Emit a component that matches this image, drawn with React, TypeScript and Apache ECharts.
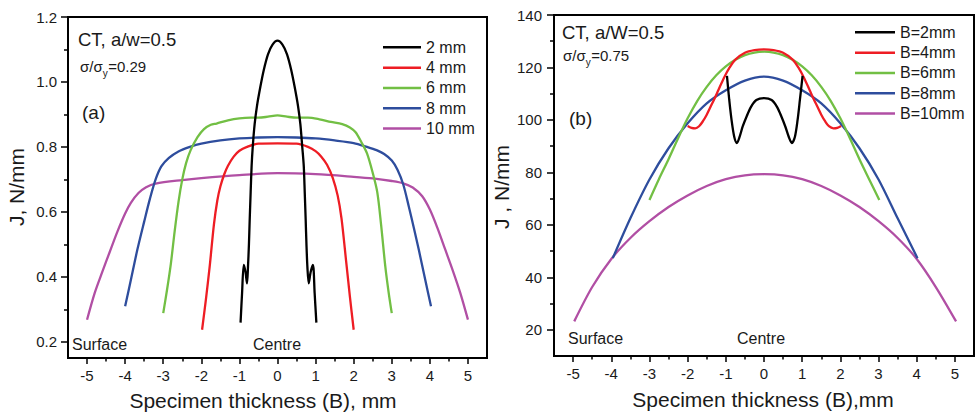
import React, { useEffect, useRef } from "react";
import * as echarts from "echarts";

// ---------- axis ticks ----------
const xTickValues = [-5, -4, -3, -2, -1, 0, 1, 2, 3, 4, 5];
const xMinorValues = [-4.5, -3.5, -2.5, -1.5, -0.5, 0.5, 1.5, 2.5, 3.5, 4.5];
const yTicksA = [0.2, 0.4, 0.6, 0.8, 1.0, 1.2];
const yMinorA = [0.3, 0.5, 0.7, 0.9, 1.1];
const yTicksB = [20, 40, 60, 80, 100, 120, 140];
const yMinorB = [30, 50, 70, 90, 110, 130];

// ---------- legends ----------
const namesA = ["2 mm", "4 mm", "6 mm", "8 mm", "10 mm"];
const namesB = ["B=2mm", "B=4mm", "B=6mm", "B=8mm", "B=10mm"];
const colors = ["#000000", "#ee1d24", "#72bf44", "#2e4d9d", "#b14fa4"];

// ---------- panel (a): J, N/mm vs specimen thickness ----------
const a2mm = [
  [-0.97, 0.259], [-0.93, 0.35], [-0.885, 0.437], [-0.84, 0.415], [-0.8, 0.38], [-0.775, 0.43],
  [-0.75, 0.5], [-0.73, 0.575], [-0.705, 0.66], [-0.68, 0.74], [-0.65, 0.8], [-0.6, 0.87],
  [-0.54, 0.925], [-0.45, 0.985], [-0.36, 1.037], [-0.25, 1.085], [-0.13, 1.115], [0, 1.127],
  [0.13, 1.115], [0.25, 1.085], [0.36, 1.037], [0.45, 0.985], [0.54, 0.925], [0.6, 0.87],
  [0.65, 0.8], [0.69, 0.74], [0.715, 0.66], [0.74, 0.575], [0.76, 0.5], [0.785, 0.43],
  [0.82, 0.38], [0.87, 0.415], [0.93, 0.437], [0.975, 0.35], [1.02, 0.259],
];
const a4mm = [
  [-1.98, 0.237], [-1.88, 0.33], [-1.78, 0.432], [-1.67, 0.56], [-1.58, 0.635], [-1.5, 0.678],
  [-1.4, 0.715], [-1.3, 0.742], [-1.15, 0.77], [-1.0, 0.788], [-0.8, 0.8], [-0.5, 0.81], [0, 0.811],
  [0.5, 0.81], [0.8, 0.8], [1.0, 0.787], [1.15, 0.77], [1.3, 0.745], [1.45, 0.705], [1.58, 0.65],
  [1.68, 0.58], [1.8, 0.45], [1.9, 0.34], [2.0, 0.237],
];
const a6mm = [
  [-3.0, 0.288], [-2.9, 0.36], [-2.8, 0.44], [-2.7, 0.54], [-2.6, 0.63], [-2.5, 0.7], [-2.4, 0.75],
  [-2.28, 0.79], [-2.1, 0.83], [-1.93, 0.855], [-1.75, 0.868], [-1.6, 0.872], [-1.3, 0.882],
  [-1.0, 0.888], [-0.7, 0.89], [-0.5, 0.89], [-0.25, 0.893], [0, 0.897], [0.25, 0.893], [0.5, 0.89],
  [0.8, 0.89], [1.1, 0.885], [1.4, 0.877], [1.7, 0.87], [1.9, 0.86], [2.05, 0.845], [2.2, 0.815],
  [2.35, 0.78], [2.5, 0.72], [2.62, 0.66], [2.72, 0.56], [2.83, 0.432], [2.92, 0.35], [3.0, 0.288],
];
const a8mm = [
  [-4.0, 0.309], [-3.85, 0.39], [-3.68, 0.483], [-3.5, 0.57], [-3.35, 0.64], [-3.2, 0.7],
  [-3.05, 0.74], [-2.85, 0.766], [-2.6, 0.786], [-2.3, 0.8], [-2.0, 0.81], [-1.5, 0.82],
  [-1.0, 0.826], [-0.5, 0.829], [0, 0.83], [0.5, 0.829], [1.0, 0.826], [1.5, 0.82], [2.0, 0.812],
  [2.35, 0.8], [2.6, 0.79], [2.8, 0.778], [3.0, 0.758], [3.15, 0.73], [3.3, 0.685], [3.45, 0.615],
  [3.58, 0.55], [3.71, 0.483], [3.88, 0.39], [4.03, 0.309],
];
const a10mm = [
  [-5.0, 0.268], [-4.8, 0.35], [-4.6, 0.415], [-4.4, 0.478], [-4.2, 0.54], [-4.0, 0.595],
  [-3.85, 0.628], [-3.65, 0.658], [-3.45, 0.676], [-3.2, 0.687], [-2.5, 0.698], [-2.0, 0.704],
  [-1.0, 0.713], [0, 0.719], [1.0, 0.716], [2.0, 0.708], [2.5, 0.703], [3.0, 0.695], [3.3, 0.688],
  [3.55, 0.675], [3.8, 0.648], [4.0, 0.607], [4.2, 0.55], [4.4, 0.485], [4.6, 0.42], [4.8, 0.35],
  [5.0, 0.268],
];

// ---------- panel (b) ----------
const b2mm = [
  [-0.97, 116.8], [-0.91, 107.6], [-0.85, 100], [-0.78, 93.6], [-0.71, 91.2], [-0.64, 93.5],
  [-0.56, 97.4], [-0.45, 101.5], [-0.34, 105], [-0.2, 107.6], [0, 108.3], [0.2, 107.6],
  [0.34, 105], [0.45, 101.5], [0.56, 97.4], [0.65, 93.5], [0.73, 91.2], [0.81, 93.6],
  [0.88, 100], [0.94, 107.6], [1.01, 116.8],
];
const b4mm = [
  [-2.0, 97.7], [-1.9, 97.0], [-1.8, 96.8], [-1.7, 97.6], [-1.6, 99.5], [-1.5, 102], [-1.4, 105],
  [-1.3, 108], [-1.2, 111.2], [-1.05, 116], [-0.9, 120], [-0.75, 123], [-0.5, 125.6],
  [-0.25, 126.6], [0, 126.9], [0.25, 126.6], [0.5, 125.6], [0.75, 123], [0.9, 120], [1.05, 116],
  [1.2, 111.2], [1.3, 108], [1.4, 105], [1.5, 102], [1.6, 99.5], [1.7, 97.6], [1.82, 96.8],
  [1.92, 97.0], [2.02, 97.7],
];
const b6mm = [
  [-3.0, 69.5], [-2.75, 77.5], [-2.5, 85], [-2.25, 93], [-2.0, 100.6], [-1.75, 107.2], [-1.5, 112.6],
  [-1.25, 117], [-1.0, 120.4], [-0.75, 122.9], [-0.5, 124.7], [-0.25, 125.7], [0, 126],
  [0.25, 125.7], [0.5, 124.7], [0.75, 122.9], [1.0, 120.4], [1.25, 117], [1.5, 112.6], [1.75, 107.2],
  [2.0, 100.6], [2.25, 93], [2.5, 85], [2.75, 77.5], [3.02, 69.5],
];
const b8mm = [
  [-3.96, 47.3], [-3.5, 62.5], [-3.0, 77.3], [-2.5, 89.2], [-2.0, 98.7], [-1.5, 106.3], [-1.0, 111.3],
  [-0.5, 115.0], [0, 116.5], [0.5, 115.0], [1.0, 111.3], [1.5, 106.3], [2.0, 98.7], [2.5, 89.2],
  [3.0, 77.3], [3.5, 62.5], [4.02, 47.3],
];
const b10mm = [
  [-4.97, 23.2], [-4.5, 36.3], [-4.0, 47.0], [-3.5, 55.0], [-3.0, 61.4], [-2.5, 66.8], [-2.0, 71.2],
  [-1.5, 74.8], [-1.0, 77.4], [-0.5, 78.9], [0, 79.3], [0.5, 78.9], [1.0, 77.4], [1.5, 74.8],
  [2.0, 71.2], [2.5, 66.8], [3.0, 61.4], [3.5, 55.0], [4.0, 47.0], [4.5, 36.3], [5.03, 23.2],
];

const seriesA = [a2mm, a4mm, a6mm, a8mm, a10mm];
const seriesB = [b2mm, b4mm, b6mm, b8mm, b10mm];

const FONT = '"Liberation Sans", Arial, Helvetica, sans-serif';
const TXT = "#1a1a1a";

function measure(text: string, size: number): number {
  const ctx = document.createElement("canvas").getContext("2d");
  if (!ctx) return text.length * size * 0.55;
  ctx.font = `${size}px ${FONT}`;
  return ctx.measureText(text).width;
}

function txt(text: string, x: number, y: number, size: number, align = "left", extra: any = {}) {
  return {
    type: "text",
    x,
    y,
    ...extra,
    style: {
      text,
      fontSize: size,
      fontFamily: FONT,
      fill: TXT,
      align,
      verticalAlign: "middle",
      textAlign: align,
      textVerticalAlign: "middle",
    },
  };
}

function sigma(x: number, y: number, value: string) {
  const main = 15;
  const sub = 10;
  const w1 = measure("σ/σ", main);
  const w2 = measure("y", sub);
  return [
    txt("σ/σ", x, y, main),
    txt("y", x + w1, y + 7, sub),
    txt(value, x + w1 + w2 + 0.5, y, main),
  ];
}

function xAxes(gridIndex: number) {
  return [
    {
      type: "value",
      gridIndex,
      min: -5.5,
      max: 5.5,
      position: "bottom",
      axisLine: { show: true, onZero: false, lineStyle: { color: "#000", width: 2 } },
      axisTick: { show: true, length: 6, customValues: xTickValues, lineStyle: { color: "#000", width: 1.5 } },
      axisLabel: {
        show: true,
        customValues: xTickValues,
        fontSize: 15,
        fontFamily: FONT,
        color: TXT,
        margin: 10,
        formatter: (v: number) => String(v),
      },
      splitLine: { show: false },
    },
    {
      type: "value",
      gridIndex,
      min: -5.5,
      max: 5.5,
      position: "bottom",
      offset: 0,
      axisLine: { show: false, onZero: false },
      axisTick: { show: true, length: 3.5, customValues: xMinorValues, lineStyle: { color: "#000", width: 1.5 } },
      axisLabel: { show: false },
      splitLine: { show: false },
    },
  ];
}

function yAxes(gridIndex: number, min: number, max: number, ticks: number[], minor: number[], fmt: (v: number) => string, margin: number) {
  return [
    {
      type: "value",
      gridIndex,
      min,
      max,
      position: "left",
      axisLine: { show: true, onZero: false, lineStyle: { color: "#000", width: 2 } },
      axisTick: { show: true, length: 7, customValues: ticks, lineStyle: { color: "#000", width: 1.5 } },
      axisLabel: {
        show: true,
        customValues: ticks,
        fontSize: 15,
        fontFamily: FONT,
        color: TXT,
        margin,
        formatter: fmt,
      },
      splitLine: { show: false },
    },
    {
      type: "value",
      gridIndex,
      min,
      max,
      position: "left",
      offset: 0,
      axisLine: { show: false, onZero: false },
      axisTick: { show: true, length: 4, customValues: minor, lineStyle: { color: "#000", width: 1.5 } },
      axisLabel: { show: false },
      splitLine: { show: false },
    },
  ];
}

export default function App() {
  const ref = useRef<HTMLDivElement>(null);

  useEffect(() => {
    if (!ref.current) return;
    const chart = echarts.init(ref.current, null, { renderer: "svg" });

    const series: any[] = [];
    seriesA.forEach((d, i) => {
      series.push({
        name: namesA[i],
        type: "line",
        xAxisIndex: 0,
        yAxisIndex: 0,
        data: d,
        symbol: "none",
        showSymbol: false,
        smooth: 0.3,
        z: 10 - i,
        lineStyle: { color: colors[i], width: 2.3 },
        itemStyle: { color: colors[i] },
      });
    });
    seriesB.forEach((d, i) => {
      series.push({
        name: namesB[i],
        type: "line",
        xAxisIndex: 2,
        yAxisIndex: 2,
        data: d,
        symbol: "none",
        showSymbol: false,
        smooth: 0.3,
        z: 10 - i,
        lineStyle: { color: colors[i], width: 2.3 },
        itemStyle: { color: colors[i] },
      });
    });

    const legendBase = {
      orient: "vertical",
      icon: "rect",
      itemHeight: 2.5,
      itemGap: 0,
      selectedMode: false,
      padding: 0,
      textStyle: { fontSize: 16, fontFamily: FONT, color: TXT, lineHeight: 20.3 },
    };

    const option: any = {
      animation: false,
      backgroundColor: "#ffffff",
      grid: [
        { left: 68, top: 17, width: 419, height: 341, show: true, borderColor: "#000", borderWidth: 2, backgroundColor: "transparent" },
        { left: 554, top: 15, width: 420, height: 341, show: true, borderColor: "#000", borderWidth: 2, backgroundColor: "transparent" },
      ],
      xAxis: [...xAxes(0), ...xAxes(1)],
      yAxis: [
        ...yAxes(0, 0.15, 1.2, yTicksA, yMinorA, (v: number) => v.toFixed(1), 11),
        ...yAxes(1, 10, 140, yTicksB, yMinorB, (v: number) => String(v), 12),
      ],
      legend: [
        { ...legendBase, data: namesA, left: 383, top: 37.2, itemWidth: 38 },
        { ...legendBase, data: namesB, left: 855, top: 22.2, itemWidth: 40 },
      ],
      series,
      graphic: [
        // panel (a)
        txt("CT, a/w=0.5", 78, 39, 18.5),
        ...sigma(80, 66, "=0.29"),
        txt("(a)", 82, 112, 19),
        txt("Surface", 72, 344, 16),
        txt("Centre", 253, 344, 16),
        txt("Specimen thickness (B), mm", 263, 400, 21, "center"),
        txt("J, N/mm", 16, 187, 21, "center", { rotation: Math.PI / 2 }),
        // panel (b)
        txt("CT, a/W=0.5", 562, 32, 18.5),
        ...sigma(563, 55, "=0.75"),
        txt("(b)", 569, 118, 19),
        txt("Surface", 568, 338, 16),
        txt("Centre", 737, 338, 16),
        txt("Specimen thickness (B),mm", 763, 399, 21, "center"),
        txt("J , N/mm", 501, 187, 21, "center", { rotation: Math.PI / 2 }),
      ],
    };

    chart.setOption(option);
    return () => chart.dispose();
  }, []);

  return (
    <div
      ref={ref}
      style={{ position: "absolute", left: 0, top: 0, width: 975, height: 412, background: "#fff" }}
    />
  );
}
